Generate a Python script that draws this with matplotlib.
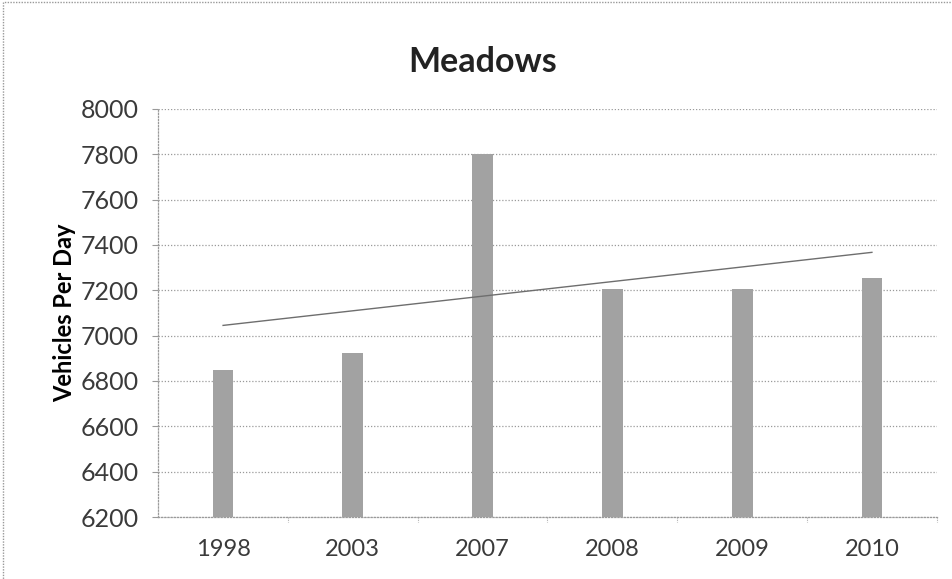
import numpy as np
import matplotlib
matplotlib.use("Agg")
import matplotlib.pyplot as plt
from matplotlib.patches import Rectangle

years = ["1998", "2003", "2007", "2008", "2009", "2010"]
vehicles = [6850, 6925, 7800, 7205, 7205, 7252]
y_ticks = [6200, 6400, 6600, 6800, 7000, 7200, 7400, 7600, 7800, 8000]

plt.rcParams["font.family"] = ["Lato", "DejaVu Sans"]

fig = plt.figure(figsize=(9.53, 5.79), dpi=100)
ax = fig.add_axes([0.166, 0.107, 0.817, 0.705])

x = np.arange(len(years))
ax.bar(x, vehicles, width=0.16, bottom=0, color="#a2a2a2", zorder=3)

# linear trendline across the categories
coef = np.polyfit(x, vehicles, 1)
ax.plot(x, np.polyval(coef, x), color="#6e6e6e", lw=1.0, zorder=4)

ax.set_xlim(-0.5, len(years) - 0.5)
ax.set_ylim(y_ticks[0], y_ticks[-1])
ax.set_yticks(y_ticks)
ax.set_yticklabels([str(v) for v in y_ticks], fontsize=18, color="#3a3a3a")
ax.set_xticks(x)
ax.set_xticklabels(years, fontsize=17, color="#3a3a3a")
ax.tick_params(axis="x", length=0, pad=16)
ax.tick_params(axis="y", length=4, color="#999999", pad=10)

ax.grid(axis="y", color="#9a9a9a", linestyle=(0, (1, 1.5)), lw=0.9, zorder=0)
for side in ("top", "right"):
    ax.spines[side].set_visible(False)
for side in ("left", "bottom"):
    ax.spines[side].set_color("#9a9a9a")
    ax.spines[side].set_linestyle((0, (1, 1.5)))
    ax.spines[side].set_linewidth(0.9)

# small category-boundary ticks on the bottom axis
for b in np.arange(-0.5, len(years), 1.0)[1:]:
    ax.plot([b, b], [y_ticks[0], y_ticks[0] - 20], color="#aaaaaa", lw=0.8,
            linestyle=(0, (1, 1)), clip_on=False, zorder=2)

ax.set_ylabel("Vehicles Per Day", fontsize=17, fontweight="bold", labelpad=3)
fig.text(0.506, 0.893, "Meadows", fontsize=24.5, fontweight="bold",
         ha="center", va="center", color="#222222")

# dotted chart border
fig.patches.append(Rectangle((0.003, -0.01), 1.2, 1.006, transform=fig.transFigure,
                             fill=False, edgecolor="#999999", lw=1.0,
                             linestyle=(0, (1, 1))))

fig.savefig("out.png", dpi=100, facecolor="white")
